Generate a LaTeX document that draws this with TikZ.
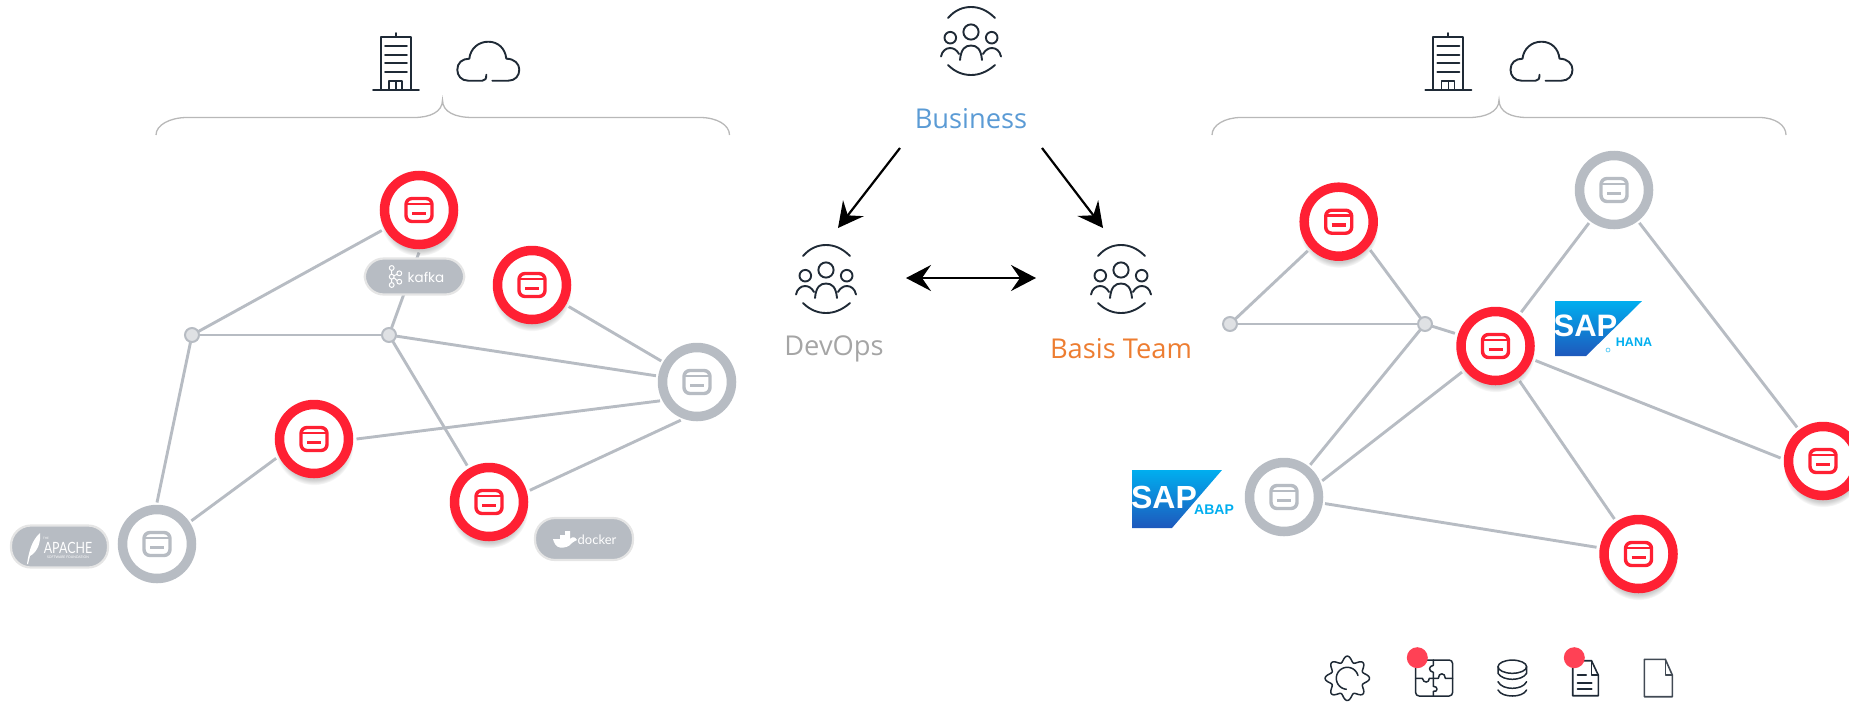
\documentclass[tikz,border=0pt]{standalone}
\usepackage{fontspec}
\setmainfont{Open Sans}
\newfontfamily\logofont{Liberation Sans}
\newfontfamily\pillfont{Poppins}
\newfontfamily\thinfont{Lato}
\usetikzlibrary{arrows.meta,shadows,backgrounds}
\definecolor{ringred}{RGB}{255,32,51}
\definecolor{ringgray}{RGB}{183,188,195}
\definecolor{inkdark}{RGB}{31,42,54}
\definecolor{dotred}{RGB}{255,65,85}
\definecolor{sapa}{RGB}{0,174,239}
\definecolor{sapb}{RGB}{30,88,188}
\definecolor{RGBblue}{RGB}{91,155,213}
\definecolor{RGBgray}{RGB}{165,165,165}
\definecolor{RGBorange}{RGB}{237,125,49}
\newcommand{\cardglyph}[1]{%
  \draw[#1,line width=3.4,rounded corners=6] ([shift={(-13,-11.5)}]path picture bounding box.center) rectangle ([shift={(13,11.5)}]path picture bounding box.center);
  \draw[#1,line width=2.6] ([shift={(-13,-6)}]path picture bounding box.center) -- ([shift={(13,-6)}]path picture bounding box.center);
  \draw[#1,line width=3.6] ([shift={(-7,3.5)}]path picture bounding box.center) -- ([shift={(7,3.5)}]path picture bounding box.center);}
\tikzset{
  rednode/.style={circle,minimum size=69,inner sep=0,outer sep=8,line width=9.5,draw=ringred,fill=white,
    circular drop shadow={shadow xshift=0pt,shadow yshift=-6pt,shadow scale=1.14,opacity=.4},
    path picture={\cardglyph{ringred}}},
  graynode/.style={circle,minimum size=69,inner sep=0,outer sep=7,line width=9.5,draw=ringgray,fill=white,
    path picture={\cardglyph{ringgray}}},
  junction/.style={circle,minimum size=14,inner sep=0,outer sep=.5,line width=2,draw=ringgray,fill=ringgray!45},
  edge/.style={draw=ringgray,line width=2.9},
  pill/.style={rectangle,inner sep=0,line width=2.2,draw=black!10,fill=ringgray,rounded corners=19},
  brace/.style={draw=black!28,line width=1.3},
  icon/.style={draw=inkdark,line width=1.9,line cap=round,line join=round},
  thickarrow/.style={draw=black,line width=2.2,-{Stealth[length=25,width=26,inset=9]}},
  twoarrow/.style={draw=black,line width=2.2,{Stealth[length=25,width=26,inset=9]}-{Stealth[length=25,width=26,inset=9]}},
  lbl/.style={inner sep=0,font=\fontsize{27.3}{32}\selectfont},
  building/.pic={
    \draw[icon] (-15,30) -- (-15,-23) -- (15,-23) -- (15,30);
    \draw[icon] (-23,30) -- (23,30);
    \draw[icon] (0,-27) -- (0,-23);
    \foreach \yy in {-14,-5,3,12} {\draw[icon] (-11,\yy) -- (11,\yy);}
    \draw[icon,line width=1.4] (-7,30) -- (-7,21) -- (6,21) -- (6,30);
    \draw[icon,line width=1.4] (0,21) -- (0,30);
  },
  cloud/.pic={
    \draw[icon] (-2,13) .. controls (-2,17) and (-3,19) .. (-6,19) -- (-20,19)
      .. controls (-27,19) and (-31,14) .. (-31,8) .. controls (-31,1) and (-26,-3) .. (-19,-3)
      .. controls (-18,-13) and (-10,-20) .. (0,-20) .. controls (10,-20) and (17,-13) .. (18,-3)
      .. controls (26,-3) and (31,2) .. (31,8) .. controls (31,14) and (27,19) .. (20,19) -- (4,19);
  },
  people/.pic={
    \draw[icon] (0,-9) circle (7.6);
    \draw[icon] (-20.7,-3.3) circle (5.8);
    \draw[icon] (20.7,-3.3) circle (5.8);
    \draw[icon] (-11,19) .. controls (-10,8) and (-6,4.5) .. (0,4.5) .. controls (6,4.5) and (10,8) .. (11,19);
    \draw[icon] (-30,15.5) .. controls (-29,10) and (-25,7) .. (-21,7) .. controls (-17,7) and (-14,9.5) .. (-12,13);
    \draw[icon] (30,15.5) .. controls (29,10) and (25,7) .. (21,7) .. controls (17,7) and (14,9.5) .. (12,13);
    \draw[icon] (-23,-23) .. controls (-16,-31) and (-8,-34) .. (0,-34) .. controls (8,-34) and (16,-31) .. (24,-23);
    \draw[icon] (-23,24) .. controls (-16,31) and (-8,34) .. (0,34) .. controls (8,34) and (16,31) .. (24,24);
  },
  gearicon/.pic={
    \draw[icon,line width=1.5] plot[smooth cycle,domain=0:357,samples=120] ({(19.3+2.9*cos(8*\x))*cos(\x)},{(19.3+2.9*cos(8*\x))*sin(\x)});
    \draw[icon,line width=1.5] plot[smooth,domain=95:345,samples=30] ({11*cos(\x)},{11*sin(\x)});
  },
  puzzleicon/.pic={
    \draw[icon,line width=1.5,rounded corners=3.5] (-17.7,-18.3) rectangle (19.3,17.7);
    \draw[icon,line width=1.5] (0,-18.3) -- (0,-13) .. controls (-5,-12) and (-5,-7) .. (0,-6) -- (0,0)
       -- (0,8) .. controls (5,8) and (5,14) .. (0,13) -- (0,17.7);
    \draw[icon,line width=1.5] (-17.7,0) -- (-11,0) .. controls (-10,5) and (-4,5) .. (-4,0) -- (0,0)
       -- (5,0) .. controls (5,-6) and (12,-6) .. (12,0) -- (19.3,0);
  },
  dbicon/.pic={
    \draw[icon,line width=1.5] (0,-6.6) ellipse (14.3 and 6.6);
    \draw[icon,line width=1.5] (-14.3,-6.6) -- (-14.3,0) .. controls (-12,4) and (-6,6) .. (0,6) .. controls (6,6) and (12,4) .. (14.3,0) -- (14.3,-6.6);
    \draw[icon,line width=1.5] (-14.3,8.4) .. controls (-12,13) and (-6,15) .. (0,15) .. controls (6,15) and (12,13) .. (14.3,8.4);
    \draw[icon,line width=1.5] (-14.3,16.7) .. controls (-12,21) and (-6,22.7) .. (0,22.7) .. controls (6,22.7) and (12,21) .. (14.3,16.7);
  },
  texticon/.pic={
    \draw[icon,line width=1.6] (-12.8,-17.5) -- (6,-17.5) -- (12.8,-3) -- (12.8,17.5) -- (-12.8,17.5) -- cycle;
    \draw[icon,line width=1.6] (6,-17.5) -- (6,-3) -- (12.8,-3);
    \draw[icon,line width=2] (-8,-3) -- (0.5,-3);
    \draw[icon,line width=2] (-8,4.3) -- (6,4.3);
    \draw[icon,line width=2] (-8,10.6) -- (6,10.6);
  },
  blankicon/.pic={
    \draw[icon,line width=1.6,draw=inkdark!85] (-14,-18.7) -- (7,-18.7) -- (14,-3) -- (14,18.7) -- (-14,18.7) -- cycle;
    \draw[icon,line width=1.6,draw=inkdark!85] (7,-18.7) -- (7,-3) -- (14,-3);
  },
}
\begin{document}
\begin{tikzpicture}[x=1pt,y=-1pt]
\useasboundingbox (0,0) rectangle (1849,702);

% left brace
\draw[brace] (156,135) .. controls (156,125) and (170,117.5) .. (187,117.5) -- (414,117.5)
  .. controls (430,117.5) and (442.5,112) .. (442.5,100) .. controls (442.5,112) and (455,117.5) .. (472.6,117.5)
  -- (700,117.5) .. controls (717,117.5) and (729.5,125) .. (729.5,135);
% right brace
\draw[brace] (1212,135) .. controls (1212,125) and (1225,117.5) .. (1241,117.5) -- (1469,117.5)
  .. controls (1485,117.5) and (1499,112) .. (1499,100) .. controls (1499,112) and (1511,117.5) .. (1527,117.5)
  -- (1759,117.5) .. controls (1775,117.5) and (1786,125) .. (1786,135);

\pic at (396,60) {building};
\pic at (488.3,61.7) {cloud};
\pic at (1448.3,60) {building};
\pic at (1541.5,61.7) {cloud};

% left network
\node[rednode] (a) at (419,210) {};
\node[rednode] (b) at (532,285) {};
\node[graynode] (c) at (697,382) {};
\node[rednode] (d) at (314,439) {};
\node[rednode] (e) at (489,502) {};
\node[graynode] (f) at (157,544) {};
\node[junction] (j1) at (192,335) {};
\node[junction] (j2) at (389,335) {};

\node[pill,minimum width=99.5,minimum height=36] (kafkapill) at (414.5,276.5) {};
\node[inner sep=0,text=white,font=\pillfont\fontsize{13.5}{16}\selectfont] (kafkatext) at (426,277) {kafka};
\foreach \px/\py in {391.7/268,391.7/276.7,391.7/285,399.3/273.3,399.3/281.7}
  {\draw[white,line width=1] (\px,\py) circle (2.4);}
\draw[white,line width=1] (391.7,270.4) -- (391.7,274.3) (391.7,279.1) -- (391.7,282.6) (393.9,275.7) -- (397.2,274.3) (393.9,277.7) -- (397.2,280.7);

\node[pill,minimum width=97,minimum height=42,rounded corners=20] (apachepill) at (59.5,546.5) {};
\fill[white] (27,564) .. controls (28.5,554) and (31,541) .. (40,533) .. controls (41,541) and (38,552) .. (30,556) -- (28,564) -- cycle;
\node[inner sep=0,text=white,font=\thinfont\fontsize{15.5}{16}\selectfont] (apachetext) at (68,547.5) {\scalebox{.8}[1]{APACHE}};
\node[inner sep=0,text=white,font=\thinfont\fontsize{3}{4}\selectfont] (apachethe) at (46,538) {THE};
\node[inner sep=0,text=white,font=\thinfont\fontsize{3.4}{4}\selectfont] (apachefound) at (68,557) {SOFTWARE FOUNDATION};

\node[pill,minimum width=98,minimum height=42,rounded corners=20] (dockerpill) at (584,539) {};
\fill[white] (553,539) -- (560,539) -- (560,535) -- (565,535) -- (565,531) -- (570,531) -- (570,539) .. controls (573,536) and (575,537) .. (577,540)
  .. controls (575,541) and (573,542) .. (572,543) .. controls (569,547) and (564,548) .. (560,547.5) .. controls (556,547) and (554,543) .. (553,539) -- cycle;
\node[inner sep=0,text=white,font=\thinfont\fontsize{13}{15}\selectfont] (dockertext) at (597,539.5) {docker};

\begin{scope}[on background layer]
  \draw[edge] (a) -- (j1);
  \draw[edge] (j1) -- (j2);
  \draw[edge] (a.south) -- (j2);
  \draw[edge] (j1) -- (f.north);
  \draw[edge] (j2) -- (c);
  \draw[edge] (j2) -- (e);
  \draw[edge] (d.0) -- (c.207);
  \draw[edge] (d.207) -- (f.34);
  \draw[edge] (e.16) -- (c.247);
  \draw[edge] (b) -- (c);
\end{scope}

% right network
\node[rednode] (r1) at (1338.7,221.7) {};
\node[graynode] (r2) at (1614,190) {};
\node[junction] (j3) at (1230,324) {};
\node[junction] (j4) at (1425,324) {};
\node[rednode] (r3) at (1495.5,346) {};
\node[rednode] (r4) at (1823,461) {};
\node[rednode] (r5) at (1638.5,554) {};
\node[graynode] (r6) at (1284,497) {};

\begin{scope}[on background layer]
  \draw[edge] (r1) -- (j3);
  \draw[edge] (r1.-42) -- (j4);
  \draw[edge] (j3) -- (j4);
  \draw[edge] (j4) -- (r3);
  \draw[edge] (j4) -- (r6);
  \draw[edge] (r3) -- (r6.23);
  \draw[edge] (r3) -- (r2);
  \draw[edge] (r2) -- (r4);
  \draw[edge] (r3.-20) -- (r4.176);
  \draw[edge] (r3) -- (r5);
  \draw[edge] (r6) -- (r5);
\end{scope}

% SAP logos
\shade[top color=sapa,bottom color=sapb] (1555,301) -- (1642,301) -- (1586,356) -- (1555,356) -- cycle;
\node[inner sep=0,text=white,font=\logofont\bfseries\fontsize{31}{32}\selectfont] (saphana) at (1585.5,326) {SAP};
\node[inner sep=0,text=sapa,font=\logofont\bfseries\fontsize{12.5}{14}\selectfont] (hanatext) at (1634,342) {HANA};
\draw[sapa!60,line width=.8] (1608,350) circle (2);

\shade[top color=sapa,bottom color=sapb] (1132,470) -- (1222,470) -- (1172,528) -- (1132,528) -- cycle;
\node[inner sep=0,text=white,font=\logofont\bfseries\fontsize{32}{33}\selectfont] (sapabap) at (1164,497) {SAP};
\node[inner sep=0,text=sapa,font=\logofont\bfseries\fontsize{14}{15}\selectfont] (abaptext) at (1214,510) {ABAP};

% centre
\pic at (971,41) {people};
\pic at (826,279) {people};
\pic at (1121,279) {people};
\node[lbl,text=RGBblue] (business) at (971,119) {Business};
\node[lbl,text=RGBgray] (devops) at (834,349) {DevOps};
\node[lbl,text=RGBorange] (basis) at (1121,349) {Basis Team};

\coordinate (bl) at (900,148);
\coordinate (dl) at (838,228);
\coordinate (br) at (1042,148);
\coordinate (bt) at (1103,228);
\coordinate (ll) at (906,278);
\coordinate (rr) at (1036,278);
\draw[thickarrow] (bl) -- (dl);
\draw[thickarrow] (br) -- (bt);
\draw[twoarrow] (ll) -- (rr);

% bottom icons
\pic at (1347.3,678.3) {gearicon};
\pic at (1433.3,678.3) {puzzleicon};
\fill[dotred] (1417.3,657.7) circle (10.5);
\pic at (1512.3,673.3) {dbicon};
\pic at (1585.5,678.2) {texticon};
\fill[dotred] (1574.3,657.7) circle (10.5);
\pic at (1658.3,678) {blankicon};
\end{tikzpicture}
\end{document}
